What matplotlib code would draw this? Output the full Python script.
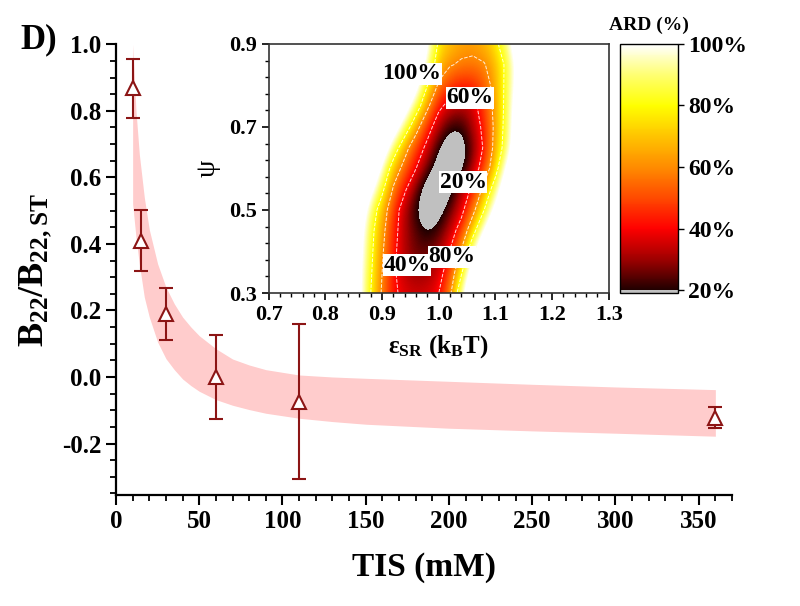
import numpy as np
import matplotlib
matplotlib.use('Agg')
import matplotlib.pyplot as plt
from matplotlib.colors import LinearSegmentedColormap, Normalize
from matplotlib.ticker import AutoMinorLocator

# ---- main panel data ----
tis = [10, 15, 30, 60, 110, 360]
b22 = [0.867, 0.41, 0.19, 0.0, -0.075, -0.122]
b22_err = [0.088, 0.092, 0.078, 0.127, 0.233, 0.031]

# model band
band_tis = [10, 12, 14, 17, 20, 25, 30, 35, 40, 45, 50, 60, 70, 80, 90, 110, 130, 150,
            200, 250, 300, 360]
band_lo = [0.52, 0.42, 0.34, 0.24, 0.18, 0.105, 0.055, 0.022, -0.006, -0.026, -0.043,
           -0.068, -0.085, -0.098, -0.109, -0.124, -0.134, -0.142, -0.154, -0.162,
           -0.169, -0.178]
band_hi = [1.0, 0.80, 0.67, 0.54, 0.443, 0.34, 0.27, 0.22, 0.18, 0.15, 0.124, 0.085,
           0.054, 0.036, 0.022, 0.006, 0.0, -0.004, -0.013, -0.022, -0.030, -0.038]

# ---- inset data: ARD (%) on an eps_SR x psi grid ----
eps_grid = [0.84, 0.86, 0.88, 0.90, 0.92, 0.94, 0.96, 0.98, 1.00, 1.02, 1.04, 1.06, 1.08, 1.10, 1.12, 1.14, 1.16]
psi_grid = [0.30, 0.35, 0.40, 0.45, 0.50, 0.55, 0.60, 0.65, 0.70, 0.75, 0.80, 0.85, 0.90]
ard = [
    # 0.84 0.86 0.88 0.90 0.92 0.94 0.96 0.98 1.00 1.02 1.04 1.06 1.08 1.10 1.12 1.14 1.16
    [120, 106,  80,  58,  42,  37,  35,  36,  40,  57,  95, 120, 120, 120, 120, 120, 120],  # 0.30
    [120, 106,  82,  60,  42,  33,  29,  30,  35,  48,  78, 112, 120, 120, 120, 120, 120],  # 0.35
    [120, 108,  84,  62,  43,  32,  26,  25,  30,  41,  62,  96, 120, 120, 120, 120, 120],  # 0.40
    [120, 110,  86,  65,  45,  32,  24,  19,  23,  33,  47,  73, 102, 120, 120, 120, 120],  # 0.45
    [120, 116,  92,  70,  48,  32,  20,  12,  14,  25,  36,  55,  80, 106, 120, 120, 120],  # 0.50
    [120, 120, 108,  84,  58,  42,  27,  12,   8,  16,  31,  43,  65,  90, 116, 120, 120],  # 0.55
    [120, 120, 120, 100,  70,  54,  40,  26,  13,   8,  16,  31,  48,  73, 104, 120, 120],  # 0.60
    [120, 120, 120, 116,  92,  66,  49,  36,  21,  11,  14,  26,  42,  66,  90, 116, 120],  # 0.65
    [120, 120, 120, 120, 114,  92,  66,  46,  32,  22,  21,  31,  44,  64,  88, 114, 120],  # 0.70
    [120, 120, 120, 120, 120, 112,  90,  63,  43,  35,  32,  35,  48,  65,  86, 112, 120],  # 0.75
    [120, 120, 120, 120, 120, 120, 110,  80,  57,  48,  44,  45,  52,  66,  85, 108, 120],  # 0.80
    [120, 120, 120, 120, 120, 120, 118,  96,  70,  61,  58,  57,  59,  68,  84, 106, 120],  # 0.85
    [120, 120, 120, 120, 120, 120, 120, 104,  77,  70,  65,  64,  68,  76,  92, 114, 120],  # 0.90
]
cbar_ticks = [20, 40, 60, 80, 100]
contour_levels = [40, 60, 80]
label_text = ['100%', '60%', '20%', '40%', '80%']
label_eps = [0.952, 1.055, 1.043, 0.944, 1.023]
label_psi = [0.828, 0.770, 0.567, 0.367, 0.387]

# ---- style ----
plt.rcParams['font.family'] = ['Liberation Serif', 'DejaVu Serif']
plt.rcParams['font.weight'] = 'bold'
plt.rcParams['axes.labelweight'] = 'bold'
plt.rcParams['mathtext.fontset'] = 'custom'
plt.rcParams['mathtext.bf'] = 'Liberation Serif:bold'
plt.rcParams['mathtext.rm'] = 'Liberation Serif:bold'
plt.rcParams['mathtext.default'] = 'bf'

dark_red = '#8c1515'
band_col = '#ffcccc'

fig = plt.figure(figsize=(8.0, 6.06), dpi=100)

# Main axes
ax = fig.add_axes([0.145, 0.183, 0.77, 0.744])
ax.fill_between(band_tis, band_lo, band_hi, color=band_col, lw=0, zorder=1)
ax.errorbar(tis, b22, yerr=b22_err, fmt='^', color=dark_red, mfc='white', mec=dark_red,
            ms=10.5, mew=1.5, elinewidth=1.5, capsize=5, capthick=1.5, zorder=3)
ax.set_xlim(0, 370)
ax.set_ylim(-0.355, 1.0)
ax.set_xticks([0, 50, 100, 150, 200, 250, 300, 350])
ax.set_yticks([-0.2, 0.0, 0.2, 0.4, 0.6, 0.8, 1.0])
ax.set_yticklabels(['-0.2', '0.0', '0.2', '0.4', '0.6', '0.8', '1.0'])
ax.xaxis.set_minor_locator(AutoMinorLocator(5))
ax.yaxis.set_minor_locator(AutoMinorLocator(4))
for s in ['top', 'right']:
    ax.spines[s].set_visible(False)
for s in ['left', 'bottom']:
    ax.spines[s].set_linewidth(1.6)
ax.tick_params(which='major', direction='out', length=7, width=1.5, labelsize=18)
ax.tick_params(which='minor', direction='out', length=4, width=1.3)
ax.set_xlabel('TIS (mM)', fontsize=24, labelpad=14)
ax.set_ylabel('B$_{22}$/B$_{22,ST}$', fontsize=26, labelpad=6)
fig.text(0.025, 0.92, 'D)', fontsize=25, fontweight='bold')

# Inset heat map
cmap = LinearSegmentedColormap.from_list('ard', [
    (0.000, '#220000'), (0.125, '#a00000'), (0.250, '#ff0000'), (0.375, '#ff4a00'),
    (0.500, '#ff8c00'), (0.625, '#ffc400'), (0.750, '#ffff00'), (0.875, '#ffff70'),
    (1.000, '#ffffff')])
cmap.set_under('#c0c0c0')
cmap.set_over('#ffffff')
norm = Normalize(vmin=20, vmax=100)

ins = fig.add_axes([0.336, 0.5165, 0.425, 0.411])
de = (eps_grid[1] - eps_grid[0]) / 2
dp = (psi_grid[1] - psi_grid[0]) / 2
ins.imshow(np.array(ard, dtype=float), origin='lower', aspect='auto', cmap=cmap, norm=norm,
           interpolation='bicubic', interpolation_stage='data',
           extent=(eps_grid[0] - de, eps_grid[-1] + de, psi_grid[0] - dp, psi_grid[-1] + dp))
ins.contour(eps_grid, psi_grid, ard, levels=contour_levels, colors='white',
            linestyles='--', linewidths=0.7, alpha=0.85)
for t, xe, yp in zip(label_text, label_eps, label_psi):
    ins.text(xe, yp, t, fontsize=17, ha='center', va='center',
             bbox=dict(facecolor='white', edgecolor='none', pad=0.3))
ins.set_xlim(0.7, 1.3)
ins.set_ylim(0.3, 0.9)
ins.set_xticks([0.7, 0.8, 0.9, 1.0, 1.1, 1.2, 1.3])
ins.set_yticks([0.3, 0.5, 0.7, 0.9])
ins.xaxis.set_minor_locator(AutoMinorLocator(5))
ins.yaxis.set_minor_locator(AutoMinorLocator(5))
ins.tick_params(which='major', direction='out', length=5, width=1.2, labelsize=16)
ins.tick_params(which='minor', direction='out', length=3, width=1.0)
for s in ins.spines.values():
    s.set_linewidth(1.2)
    s.set_color('#333333')
ins.set_xlabel('ε$_{SR}$ (k$_B$T)', fontsize=18, labelpad=6)
ins.set_ylabel('ψ', fontsize=20, fontweight='normal', labelpad=6)

# Colour bar
cax = fig.add_axes([0.775, 0.5165, 0.0725, 0.411])
cb = fig.colorbar(plt.cm.ScalarMappable(norm=norm, cmap=cmap), cax=cax,
                  extend='min', extendrect=True, extendfrac=0.012)
cb.set_ticks(cbar_ticks)
cb.set_ticklabels([f'{v}%' for v in cbar_ticks])
cb.outline.set_linewidth(1.0)
cax.tick_params(direction='out', length=4, width=1.0, labelsize=17)
cax.set_title('ARD (%)', fontsize=14, fontweight='bold', pad=10)

fig.savefig('out.png', dpi=100)
